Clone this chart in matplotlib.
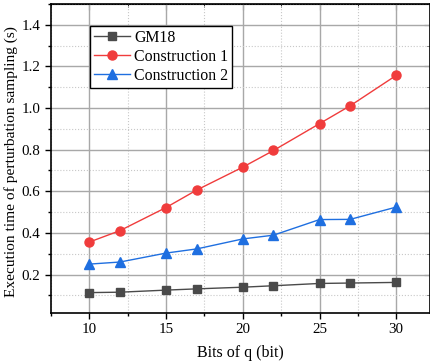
import numpy as np
import matplotlib.pyplot as plt
from matplotlib.ticker import MultipleLocator

# data
bits = [10, 12, 15, 17, 20, 22, 25, 27, 30]
gm18 = [0.113, 0.115, 0.125, 0.131, 0.139, 0.146, 0.157, 0.159, 0.162]
constr1 = [0.356, 0.411, 0.522, 0.606, 0.716, 0.796, 0.925, 1.011, 1.157]
constr2 = [0.250, 0.260, 0.303, 0.323, 0.371, 0.389, 0.464, 0.465, 0.524]

plt.rcParams['font.family'] = ['Liberation Serif', 'DejaVu Serif']

fig = plt.figure(figsize=(4.31, 3.64), dpi=100)
ax = fig.add_axes([51 / 431, 1 - 313 / 364, 379 / 431, 309 / 364])

ax.plot(bits, gm18, color='#4a4a4a', marker='s', markersize=5.5, lw=1, label='GM18')
ax.plot(bits, constr1, color='#f03c3c', marker='o', markersize=6.5, lw=1, label='Construction 1')
ax.plot(bits, constr2, color='#1f6fe0', marker='^', markersize=6.5, lw=1, label='Construction 2')

ax.set_xlim(7.5, 32.2)
ax.set_ylim(0.015, 1.5)
ax.xaxis.set_major_locator(MultipleLocator(5))
ax.xaxis.set_minor_locator(MultipleLocator(2.5))
ax.yaxis.set_minor_locator(MultipleLocator(0.1))
ax.set_yticks([0.2, 0.4, 0.6, 0.8, 1.0, 1.2, 1.4])

ax.grid(which='major', color='#a8a8a8', lw=1.0, ls='-')
ax.grid(which='minor', color='#c8c8c8', lw=0.8, ls=':')
ax.set_axisbelow(True)

ax.tick_params(which='both', direction='out', labelsize=10.8, width=1)
ax.tick_params(which='major', length=4)
ax.tick_params(which='minor', length=2.5)

# mirrored ticks on top and right, pointing inward
top = ax.secondary_xaxis('top')
top.xaxis.set_major_locator(MultipleLocator(5))
top.xaxis.set_minor_locator(MultipleLocator(2.5))
top.tick_params(which='both', direction='in', labeltop=False)
top.tick_params(which='major', length=4)
top.tick_params(which='minor', length=2.5)
right = ax.secondary_yaxis('right')
right.yaxis.set_major_locator(MultipleLocator(0.2))
right.yaxis.set_minor_locator(MultipleLocator(0.1))
right.tick_params(which='both', direction='in', labelright=False)
right.tick_params(which='major', length=4)
right.tick_params(which='minor', length=2.5)

for s in ax.spines.values():
    s.set_linewidth(1.2)

ax.set_xlabel('Bits of q (bit)', fontsize=11.5, labelpad=6)
ax.set_ylabel('Execution time of perturbation sampling (s)', fontsize=11.1)
ax.yaxis.set_label_coords(-0.088, 0.49)

leg = ax.legend(loc='upper left', bbox_to_anchor=(0.103, 0.93), fontsize=11.4,
                frameon=True, fancybox=False, edgecolor='black', framealpha=1,
                borderpad=0.25, labelspacing=0.2, handlelength=2.25, handletextpad=0.3,
                borderaxespad=0)
leg.get_frame().set_linewidth(1.0)

fig.savefig('out.png', dpi=100)
